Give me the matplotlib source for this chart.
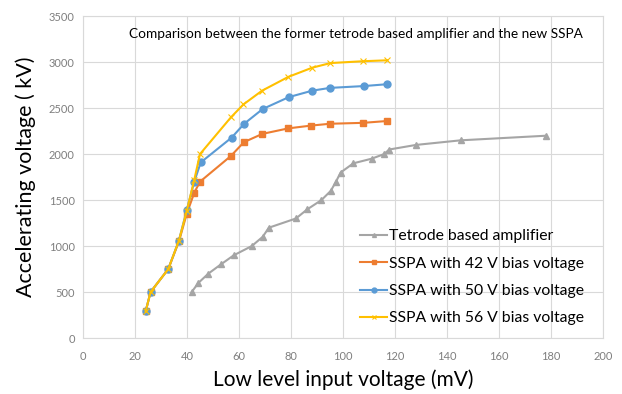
import matplotlib.pyplot as plt

# Tetrode based amplifier
tetrode_x = [41.8, 44.4, 48.2, 53.0, 58.0, 64.9, 69.1, 71.5, 81.9, 86.3, 91.7, 95.3, 97.3,
             99.1, 104.0, 111.0, 115.8, 117.8, 128.1, 145.3, 178.1]
tetrode_y = [500, 600, 700, 800, 900, 1000, 1100, 1200, 1300, 1400, 1500, 1600, 1700,
             1800, 1900, 1950, 2000, 2050, 2100, 2150, 2200]

# SSPA, 42 V bias
sspa42_x = [24.1, 26.0, 32.8, 36.9, 39.9, 42.8, 45.0, 56.9, 61.9, 69.0, 79.0, 87.7, 95.0, 107.8, 117.0]
sspa42_y = [290, 500, 750, 1050, 1350, 1580, 1700, 1980, 2130, 2220, 2280, 2310, 2330, 2340, 2360]

# SSPA, 50 V bias
sspa50_x = [24.1, 26.0, 32.8, 36.9, 39.9, 42.8, 45.3, 57.2, 62.0, 69.1, 79.2, 88.2, 95.0, 108.1, 117.0]
sspa50_y = [290, 500, 750, 1060, 1390, 1700, 1910, 2180, 2330, 2490, 2620, 2690, 2720, 2740, 2760]

# SSPA, 56 V bias
sspa56_x = [24.1, 26.0, 32.8, 36.9, 39.9, 42.8, 45.0, 56.9, 61.7, 68.9, 79.0, 88.2, 95.2, 107.8, 117.0]
sspa56_y = [290, 500, 750, 1060, 1380, 1720, 2000, 2400, 2540, 2690, 2840, 2940, 2990, 3010, 3020]

x_ticks = list(range(0, 201, 20))
y_ticks = list(range(0, 3501, 500))

plt.rcParams['font.family'] = ['Lato', 'DejaVu Sans']

fig = plt.figure(figsize=(6.22, 3.94), dpi=100)
ax = fig.add_axes([0.1334, 0.142, 0.836, 0.817])

ax.plot(tetrode_x, tetrode_y, color='#a5a5a5', marker='^', markersize=4, linewidth=1.5,
        label='Tetrode based amplifier')
ax.plot(sspa42_x, sspa42_y, color='#ed7d31', marker='s', markersize=4.5, linewidth=1.5,
        label='SSPA with 42 V bias voltage')
ax.plot(sspa50_x, sspa50_y, color='#5b9bd5', marker='o', markersize=5, linewidth=1.5,
        label='SSPA with 50 V bias voltage')
ax.plot(sspa56_x, sspa56_y, color='#ffc000', marker='x', markersize=4, markeredgewidth=0.8,
        linewidth=1.5, label='SSPA with 56 V bias voltage')

ax.set_xlim(0, 200)
ax.set_ylim(0, 3500)
ax.set_xticks(x_ticks)
ax.set_yticks(y_ticks)
ax.grid(True, color='#d9d9d9', linewidth=0.8)
ax.set_axisbelow(True)
for s in ax.spines.values():
    s.set_color('#d9d9d9')
ax.tick_params(length=0, labelsize=8, labelcolor='#7f7f7f', pad=6)
ax.tick_params(axis='x', pad=9.5)

ax.set_xlabel('Low level input voltage (mV)', fontsize=15, labelpad=5)
ax.set_ylabel('Accelerating voltage ( kV)', fontsize=15.5, labelpad=9)

ax.text(0.525, 0.945, 'Comparison between the former tetrode based amplifier and the new SSPA',
        transform=ax.transAxes, ha='center', va='center', fontsize=9.8)

ax.legend(loc='lower right', bbox_to_anchor=(0.975, 0.02), frameon=False, fontsize=11.3,
          handlelength=1.7, handletextpad=0.1, labelspacing=0.85, borderaxespad=0,
          markerscale=0.7)

fig.savefig('out.png', dpi=100)
